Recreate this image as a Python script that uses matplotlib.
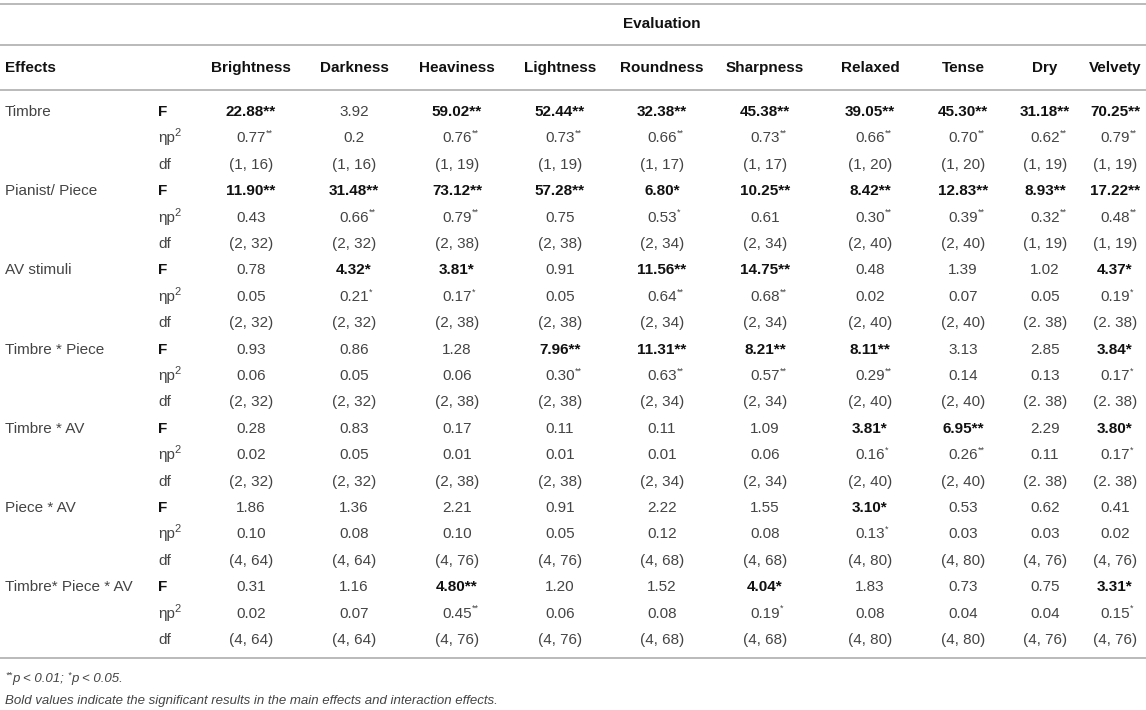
import matplotlib
matplotlib.use("Agg")
import matplotlib.pyplot as plt

# ---- table data ----
columns = ["Brightness", "Darkness", "Heaviness", "Lightness", "Roundness",
           "Sharpness", "Relaxed", "Tense", "Dry", "Velvety"]
effects = ["Timbre", "Pianist/ Piece", "AV stimuli", "Timbre * Piece",
           "Timbre * AV", "Piece * AV", "Timbre* Piece * AV"]

f_timbre = ["22.88**", "3.92", "59.02**", "52.44**", "32.38**", "45.38**", "39.05**", "45.30**", "31.18**", "70.25**"]
eta_timbre = ["0.77**", "0.2", "0.76**", "0.73**", "0.66**", "0.73**", "0.66**", "0.70**", "0.62**", "0.79**"]
df_timbre = ["(1, 16)", "(1, 16)", "(1, 19)", "(1, 19)", "(1, 17)", "(1, 17)", "(1, 20)", "(1, 20)", "(1, 19)", "(1, 19)"]

f_piece = ["11.90**", "31.48**", "73.12**", "57.28**", "6.80*", "10.25**", "8.42**", "12.83**", "8.93**", "17.22**"]
eta_piece = ["0.43", "0.66**", "0.79**", "0.75", "0.53*", "0.61", "0.30**", "0.39**", "0.32**", "0.48**"]
df_piece = ["(2, 32)", "(2, 32)", "(2, 38)", "(2, 38)", "(2, 34)", "(2, 34)", "(2, 40)", "(2, 40)", "(1, 19)", "(1, 19)"]

f_av = ["0.78", "4.32*", "3.81*", "0.91", "11.56**", "14.75**", "0.48", "1.39", "1.02", "4.37*"]
eta_av = ["0.05", "0.21*", "0.17*", "0.05", "0.64**", "0.68**", "0.02", "0.07", "0.05", "0.19*"]
df_av = ["(2, 32)", "(2, 32)", "(2, 38)", "(2, 38)", "(2, 34)", "(2, 34)", "(2, 40)", "(2, 40)", "(2. 38)", "(2. 38)"]

f_timbre_piece = ["0.93", "0.86", "1.28", "7.96**", "11.31**", "8.21**", "8.11**", "3.13", "2.85", "3.84*"]
eta_timbre_piece = ["0.06", "0.05", "0.06", "0.30**", "0.63**", "0.57**", "0.29**", "0.14", "0.13", "0.17*"]
df_timbre_piece = ["(2, 32)", "(2, 32)", "(2, 38)", "(2, 38)", "(2, 34)", "(2, 34)", "(2, 40)", "(2, 40)", "(2. 38)", "(2. 38)"]

f_timbre_av = ["0.28", "0.83", "0.17", "0.11", "0.11", "1.09", "3.81*", "6.95**", "2.29", "3.80*"]
eta_timbre_av = ["0.02", "0.05", "0.01", "0.01", "0.01", "0.06", "0.16*", "0.26**", "0.11", "0.17*"]
df_timbre_av = ["(2, 32)", "(2, 32)", "(2, 38)", "(2, 38)", "(2, 34)", "(2, 34)", "(2, 40)", "(2, 40)", "(2. 38)", "(2. 38)"]

f_piece_av = ["1.86", "1.36", "2.21", "0.91", "2.22", "1.55", "3.10*", "0.53", "0.62", "0.41"]
eta_piece_av = ["0.10", "0.08", "0.10", "0.05", "0.12", "0.08", "0.13*", "0.03", "0.03", "0.02"]
df_piece_av = ["(4, 64)", "(4, 64)", "(4, 76)", "(4, 76)", "(4, 68)", "(4, 68)", "(4, 80)", "(4, 80)", "(4, 76)", "(4, 76)"]

f_all = ["0.31", "1.16", "4.80**", "1.20", "1.52", "4.04*", "1.83", "0.73", "0.75", "3.31*"]
eta_all = ["0.02", "0.07", "0.45**", "0.06", "0.08", "0.19*", "0.08", "0.04", "0.04", "0.15*"]
df_all = ["(4, 64)", "(4, 64)", "(4, 76)", "(4, 76)", "(4, 68)", "(4, 68)", "(4, 80)", "(4, 80)", "(4, 76)", "(4, 76)"]

blocks = [
    (f_timbre, eta_timbre, df_timbre),
    (f_piece, eta_piece, df_piece),
    (f_av, eta_av, df_av),
    (f_timbre_piece, eta_timbre_piece, df_timbre_piece),
    (f_timbre_av, eta_timbre_av, df_timbre_av),
    (f_piece_av, eta_piece_av, df_piece_av),
    (f_all, eta_all, df_all),
]

# ---- layout ----
W, H = 1146, 710
col_x = [251, 354, 457, 560, 662, 765, 870, 963, 1045, 1115]
x_effect, x_stat = 5, 158
y_first, row_h = 112, 26.4
txt = "#444444"
bold_c = "#111111"
rule = "#b4b4b4"
fs = 11

plt.rcParams["font.family"] = ["Liberation Sans", "DejaVu Sans"]

fig = plt.figure(figsize=(W / 100, H / 100), dpi=100)
ax = fig.add_axes([0, 0, 1, 1])
ax.set_xlim(0, W)
ax.set_ylim(H, 0)
ax.axis("off")
renderer = fig.canvas.get_renderer()


def with_sup(x, y, base, sup, ha="center", sup_fs=6.5, gap=0.5, color=txt):
    t = ax.text(x, y, base, ha=ha, va="center", fontsize=fs, color=color)
    if sup:
        bb = t.get_window_extent(renderer=renderer).transformed(ax.transData.inverted())
        ax.text(bb.x1 + gap, y - 5, sup, ha="left", va="center", fontsize=sup_fs,
                color=color)
    return t


# rules
for yy in [4, 45, 90]:
    ax.axhline(yy, color=rule, lw=1.3)
bottom_y = y_first + 20 * row_h + 18
ax.axhline(bottom_y, color=rule, lw=1.3)

ax.text(col_x[4], 24, "Evaluation", ha="center", va="center", fontsize=fs,
        fontweight="bold", color=bold_c)
ax.text(x_effect, 68, "Effects", ha="left", va="center", fontsize=fs,
        fontweight="bold", color=bold_c)
for cx, name in zip(col_x, columns):
    ax.text(cx, 68, name, ha="center", va="center", fontsize=fs,
            fontweight="bold", color=bold_c)

for b, (name, (fv, ev, dv)) in enumerate(zip(effects, blocks)):
    y0 = y_first + 3 * b * row_h
    ax.text(x_effect, y0, name, ha="left", va="center", fontsize=fs, color=txt)
    ax.text(x_stat, y0, "F", ha="left", va="center", fontsize=fs,
            fontweight="bold", color=bold_c)
    with_sup(x_stat, y0 + row_h, "\u03b7p", "2", ha="left", sup_fs=8, gap=-0.5)
    ax.text(x_stat, y0 + 2 * row_h, "df", ha="left", va="center", fontsize=fs, color=txt)
    for cx, f, e, d in zip(col_x, fv, ev, dv):
        sig = "*" in f
        ax.text(cx, y0, f, ha="center", va="center", fontsize=fs,
                fontweight="bold" if sig else "normal", color=bold_c if sig else txt)
        num = e.rstrip("*")
        with_sup(cx, y0 + row_h, num, e[len(num):])
        ax.text(cx, y0 + 2 * row_h, d, ha="center", va="center", fontsize=fs, color=txt)

# footnotes
fy = bottom_y + 21
t1 = ax.text(x_effect + 7, fy, "p < 0.01; ", ha="left", va="center", fontsize=9.5,
             fontstyle="italic", color=txt)
ax.text(x_effect, fy - 4, "**", ha="left", va="center", fontsize=6.5,
        fontstyle="italic", color=txt)
bb = t1.get_window_extent(renderer=renderer).transformed(ax.transData.inverted())
ax.text(bb.x1, fy - 4, "*", ha="left", va="center", fontsize=6.5,
        fontstyle="italic", color=txt)
ax.text(bb.x1 + 4, fy, "p < 0.05.", ha="left", va="center", fontsize=9.5,
        fontstyle="italic", color=txt)
ax.text(x_effect, fy + 22,
        "Bold values indicate the significant results in the main effects and interaction effects.",
        ha="left", va="center", fontsize=9.5, fontstyle="italic", color=txt)

fig.savefig("out.png", dpi=100, facecolor="white")
